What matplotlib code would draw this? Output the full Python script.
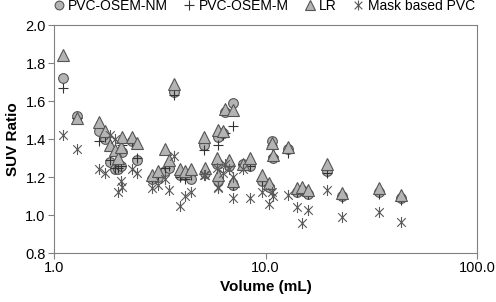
import matplotlib
matplotlib.use("Agg")
import matplotlib.pyplot as plt
from matplotlib.path import Path
from matplotlib.ticker import FixedLocator, NullLocator, FormatStrFormatter

plt.rcParams['font.family'] = ['Liberation Sans', 'DejaVu Sans']

# volume (mL) of each lesion and SUV ratio for the four methods
volume = [1.10, 1.28, 1.63, 1.74, 1.84, 1.94, 2.01, 2.07, 2.10, 2.34,
          2.47, 2.91, 3.10, 3.35, 3.50, 3.69, 3.94, 4.16, 4.44, 5.12,
          5.18, 5.90, 5.96, 5.96, 6.30, 6.43, 6.72, 7.02, 7.02, 7.80,
          8.45, 9.59, 10.42, 10.70, 10.88, 12.82, 14.06, 14.83, 15.93, 19.46,
          23.07, 34.5, 43.6]
osem_nm = [1.72, 1.52, 1.44, 1.40, 1.28, 1.24, 1.24, 1.26, 1.33, 1.39,
           1.29, 1.19, 1.20, 1.23, 1.25, 1.65, 1.21, 1.21, 1.19, 1.37,
           1.22, 1.27, 1.41, 1.18, 1.43, 1.54, 1.26, 1.59, 1.16, 1.27,
           1.26, 1.18, 1.15, 1.39, 1.30, 1.35, 1.12, 1.13, 1.11, 1.23,
           1.10, 1.12, 1.09]
osem_m = [1.67, 1.51, 1.39, 1.41, 1.29, 1.25, 1.25, 1.26, 1.37, 1.39,
          1.30, 1.18, 1.20, 1.25, 1.26, 1.63, 1.20, 1.19, 1.21, 1.34,
          1.22, 1.28, 1.37, 1.19, 1.42, 1.43, 1.26, 1.47, 1.16, 1.27,
          1.26, 1.18, 1.16, 1.37, 1.31, 1.325, 1.12, 1.13, 1.11, 1.22,
          1.09, 1.11, 1.08]
lr = [1.84, 1.51, 1.49, 1.44, 1.37, 1.34, 1.30, 1.36, 1.41, 1.41,
      1.38, 1.21, 1.23, 1.35, 1.29, 1.69, 1.24, 1.23, 1.24, 1.41,
      1.25, 1.30, 1.45, 1.21, 1.44, 1.56, 1.29, 1.555, 1.18, 1.27,
      1.30, 1.21, 1.17, 1.38, 1.315, 1.36, 1.14, 1.15, 1.13, 1.27,
      1.114, 1.14, 1.105]
mask_pvc = [1.42, 1.35, 1.24, 1.22, 1.42, 1.40, 1.12, 1.18, 1.15, 1.24,
            1.22, 1.14, 1.16, 1.19, 1.13, 1.31, 1.05, 1.10, 1.12, 1.21,
            1.21, 1.25, 1.14, 1.15, 1.22, 1.27, 1.24, 1.20, 1.09, 1.245,
            1.09, 1.12, 1.06, 1.12, 1.10, 1.105, 1.04, 0.956, 1.026, 1.13,
            0.988, 1.017, 0.965]

# star marker: X with a vertical bar
star = Path([(-1, -1), (1, 1), (-1, 1), (1, -1), (0, -1.3), (0, 1.3)],
            [Path.MOVETO, Path.LINETO, Path.MOVETO, Path.LINETO, Path.MOVETO, Path.LINETO])

fig = plt.figure(figsize=(4.96, 3.02), dpi=100)
ax = fig.add_axes([0.109, 0.162, 0.853, 0.755])

fill = '#b4b4b4'
edge = '#555555'
ax.plot(volume, osem_nm, 'o', ms=7, mfc=fill, mec=edge, mew=0.8, label='PVC-OSEM-NM')
ax.plot(volume, osem_m, '+', ms=7.5, mec='#333333', mew=0.8, label='PVC-OSEM-M')
ax.plot(volume, lr, '^', ms=8, mfc=fill, mec=edge, mew=0.8, label='LR')
ax.plot(volume, mask_pvc, ls='none', marker=star, ms=8, mfc='none', mec='#5a5a5a',
        mew=0.8, label='Mask based PVC')

ax.set_xscale('log')
ax.set_xlim(1, 100)
ax.set_ylim(0.8, 2.0)
ax.xaxis.set_major_locator(FixedLocator([1, 10, 100]))
ax.xaxis.set_minor_locator(NullLocator())
ax.xaxis.set_major_formatter(FormatStrFormatter('%.1f'))
ax.set_yticks([0.8, 1.0, 1.2, 1.4, 1.6, 1.8, 2.0])
ax.yaxis.set_major_formatter(FormatStrFormatter('%.1f'))

for s in ax.spines.values():
    s.set_color('#808080')
ax.tick_params(direction='out', length=4, color='#808080', labelsize=10.5, pad=2)

ax.set_xlabel('Volume (mL)', fontsize=11, fontweight='bold', labelpad=3)
ax.set_ylabel('SUV Ratio', fontsize=11, fontweight='bold', labelpad=4)

fig.legend(loc='upper center', bbox_to_anchor=(0.532, 1.03), ncol=4, frameon=False,
           fontsize=10, handlelength=0.8, handletextpad=0.3, columnspacing=1.1,
           borderaxespad=0.2, markerscale=0.9)

fig.savefig('out.png', dpi=100)
